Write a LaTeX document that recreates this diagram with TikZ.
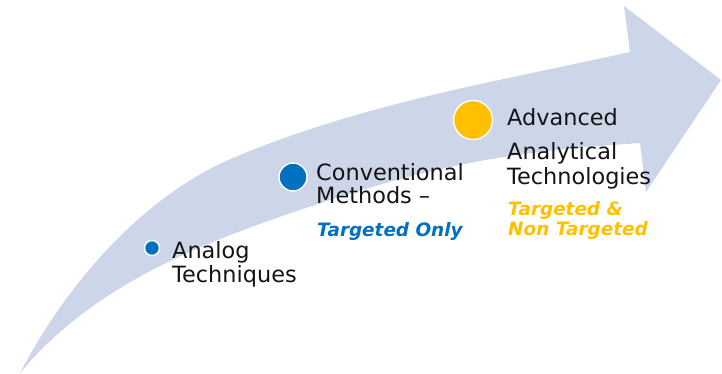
\documentclass[tikz,border=0pt]{standalone}
\usepackage{fontspec}
\setmainfont{DejaVu Sans}
\definecolor{bandblue}{RGB}{205,213,232}
\definecolor{stepblue}{RGB}{0,112,192}
\definecolor{stepgold}{RGB}{255,192,0}
\definecolor{inkgray}{RGB}{20,20,20}
\begin{document}
\begin{tikzpicture}[x=1pt,y=-1pt,
  dot/.style={circle, draw=white, line width=1.4pt, inner sep=0pt, minimum size=#1},
  label/.style={anchor=base west, inner sep=0pt, text=inkgray,
    font=\fontsize{22.4}{25}\selectfont},
  note/.style={anchor=base west, inner sep=0pt,
    font=\fontsize{18.4}{21}\selectfont\bfseries\itshape}]
\useasboundingbox (0,0) rectangle (722,374);

% curved progress arrow: upper edge, head, lower edge back to the tail
\fill[bandblue]
  (20,373) .. controls (80,259) and (163,187) .. (233,158)
           .. controls (363,103) and (500,81) .. (630,52)
  -- (624,6) -- (721,80) -- (646,192) -- (640,143)
           .. controls (520,151) and (440,162) .. (300,210)
           .. controls (190,247) and (90,289) .. (20,373)
  -- cycle;

% stage markers
\node[dot=15pt, fill=stepblue] (d1) at (152,248) {};
\node[dot=28pt, fill=stepblue] (d2) at (293,177) {};
\node[dot=39pt, fill=stepgold] (d3) at (473,120) {};

% stage 1
\node[label] (a1) at (172,258) {Analog};
\node[label] (a2) at (172,282) {Techniques};

% stage 2
\node[label] (b1) at (316,180) {Conventional};
\node[label] (b2) at (316,204) {Methods –};
\node[note, text=stepblue] (b3) at (317,236) {Targeted Only};

% stage 3
\node[label] (c1) at (507,126) {Advanced};
\node[label] (c2) at (507,160) {Analytical};
\node[label] (c3) at (507,185) {Technologies};
\node[note, text=stepgold] (c4) at (508,215) {Targeted \&};
\node[note, text=stepgold] (c5) at (508,235) {Non Targeted};
\end{tikzpicture}
\end{document}
